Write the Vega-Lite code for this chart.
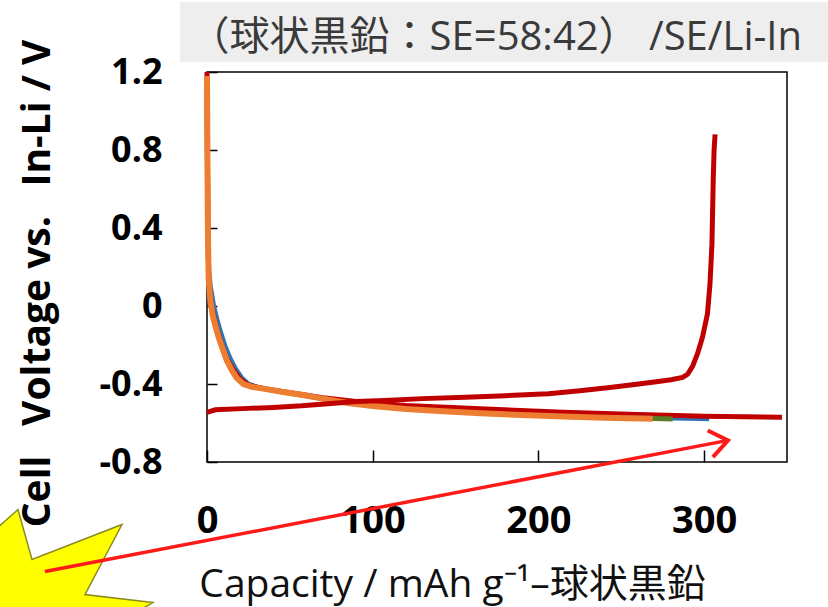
{
  "$schema": "https://vega.github.io/schema/vega-lite/v6.json",
  "autosize": "none",
  "width": 580,
  "height": 390,
  "padding": {"left": 207, "top": 72, "right": 41, "bottom": 145},
  "background": "white",
  "config": {
    "view": {"stroke": "#000", "strokeWidth": 1.5},
    "axis": {"grid": false, "domain": false}
  },
  "datasets": {
    "curves": [
      {"s": "blue", "cap": 0, "v": 1.1}, {"s": "blue", "cap": 0.5, "v": 0.4}, {"s": "blue", "cap": 1, "v": 0.18}, {"s": "blue", "cap": 2, "v": 0.1}, {"s": "blue", "cap": 4, "v": 0.0}, {"s": "blue", "cap": 6, "v": -0.07}, {"s": "blue", "cap": 8, "v": -0.13}, {"s": "blue", "cap": 11, "v": -0.21}, {"s": "blue", "cap": 14, "v": -0.27}, {"s": "blue", "cap": 17, "v": -0.32}, {"s": "blue", "cap": 21, "v": -0.37}, {"s": "blue", "cap": 25, "v": -0.4}, {"s": "blue", "cap": 30, "v": -0.416}, {"s": "blue", "cap": 45, "v": -0.44}, {"s": "blue", "cap": 60, "v": -0.46}, {"s": "blue", "cap": 80, "v": -0.49}, {"s": "blue", "cap": 100, "v": -0.508}, {"s": "blue", "cap": 130, "v": -0.528}, {"s": "blue", "cap": 165, "v": -0.545}, {"s": "blue", "cap": 200, "v": -0.556}, {"s": "blue", "cap": 240, "v": -0.567}, {"s": "blue", "cap": 270, "v": -0.573}, {"s": "blue", "cap": 290, "v": -0.576}, {"s": "blue", "cap": 303, "v": -0.578},
      {"s": "red1", "cap": 0, "v": 1.2}, {"s": "red1", "cap": 0.3, "v": 0.75}, {"s": "red1", "cap": 0.6, "v": 0.4}, {"s": "red1", "cap": 1, "v": 0.16}, {"s": "red1", "cap": 2, "v": 0.04}, {"s": "red1", "cap": 4, "v": -0.05}, {"s": "red1", "cap": 6, "v": -0.12}, {"s": "red1", "cap": 9, "v": -0.2}, {"s": "red1", "cap": 12, "v": -0.27}, {"s": "red1", "cap": 16, "v": -0.33}, {"s": "red1", "cap": 20, "v": -0.375}, {"s": "red1", "cap": 25, "v": -0.405}, {"s": "red1", "cap": 35, "v": -0.425}, {"s": "red1", "cap": 50, "v": -0.445}, {"s": "red1", "cap": 70, "v": -0.47}, {"s": "red1", "cap": 90, "v": -0.49}, {"s": "red1", "cap": 120, "v": -0.51}, {"s": "red1", "cap": 165, "v": -0.527}, {"s": "red1", "cap": 215, "v": -0.545}, {"s": "red1", "cap": 260, "v": -0.556}, {"s": "red1", "cap": 300, "v": -0.565}, {"s": "red1", "cap": 347, "v": -0.57},
      {"s": "green", "cap": 255, "v": -0.574}, {"s": "green", "cap": 269, "v": -0.577}, {"s": "green", "cap": 281, "v": -0.579},
      {"s": "orange", "cap": 0, "v": 1.18}, {"s": "orange", "cap": 0.3, "v": 0.7}, {"s": "orange", "cap": 0.6, "v": 0.35}, {"s": "orange", "cap": 1, "v": 0.14}, {"s": "orange", "cap": 2, "v": 0.03}, {"s": "orange", "cap": 3.5, "v": -0.05}, {"s": "orange", "cap": 5, "v": -0.1}, {"s": "orange", "cap": 7, "v": -0.16}, {"s": "orange", "cap": 9.5, "v": -0.22}, {"s": "orange", "cap": 12, "v": -0.28}, {"s": "orange", "cap": 15, "v": -0.33}, {"s": "orange", "cap": 18, "v": -0.37}, {"s": "orange", "cap": 22, "v": -0.4}, {"s": "orange", "cap": 27, "v": -0.415}, {"s": "orange", "cap": 35, "v": -0.425}, {"s": "orange", "cap": 45, "v": -0.44}, {"s": "orange", "cap": 57, "v": -0.455}, {"s": "orange", "cap": 70, "v": -0.475}, {"s": "orange", "cap": 85, "v": -0.497}, {"s": "orange", "cap": 100, "v": -0.513}, {"s": "orange", "cap": 120, "v": -0.528}, {"s": "orange", "cap": 140, "v": -0.538}, {"s": "orange", "cap": 165, "v": -0.55}, {"s": "orange", "cap": 190, "v": -0.559}, {"s": "orange", "cap": 215, "v": -0.567}, {"s": "orange", "cap": 240, "v": -0.573}, {"s": "orange", "cap": 269, "v": -0.578},
      {"s": "red2", "cap": 0, "v": -0.545}, {"s": "red2", "cap": 5, "v": -0.532}, {"s": "red2", "cap": 25, "v": -0.525}, {"s": "red2", "cap": 40, "v": -0.52}, {"s": "red2", "cap": 57, "v": -0.512}, {"s": "red2", "cap": 75, "v": -0.5}, {"s": "red2", "cap": 90, "v": -0.49}, {"s": "red2", "cap": 107, "v": -0.485}, {"s": "red2", "cap": 130, "v": -0.475}, {"s": "red2", "cap": 156, "v": -0.468}, {"s": "red2", "cap": 180, "v": -0.46}, {"s": "red2", "cap": 206, "v": -0.45}, {"s": "red2", "cap": 225, "v": -0.435}, {"s": "red2", "cap": 243, "v": -0.418}, {"s": "red2", "cap": 258, "v": -0.403}, {"s": "red2", "cap": 270, "v": -0.39}, {"s": "red2", "cap": 280, "v": -0.378}, {"s": "red2", "cap": 287, "v": -0.366}, {"s": "red2", "cap": 290, "v": -0.35}, {"s": "red2", "cap": 293, "v": -0.31}, {"s": "red2", "cap": 296, "v": -0.245}, {"s": "red2", "cap": 299, "v": -0.16}, {"s": "red2", "cap": 302, "v": -0.04}, {"s": "red2", "cap": 303.5, "v": 0.11}, {"s": "red2", "cap": 304.7, "v": 0.316}, {"s": "red2", "cap": 305.5, "v": 0.65}, {"s": "red2", "cap": 306, "v": 0.8}, {"s": "red2", "cap": 306.6, "v": 0.88}
    ],
    "band": [{"x1": -16.3, "x2": 374.8, "y1": 1.25, "y2": 1.56, "tx": -10.5, "ty": 1.315, "label": "（球状黒鉛：SE=58:42） /SE/Li-In"}],
    "arrow": [{"x1": -97.8, "y1": -1.362, "x2": 314.4, "y2": -0.689}],
    "star": [{"x": -137, "y": -1.454}]
  },
  "layer": [
    {
      "data": {"name": "band"},
      "mark": {"type": "rect", "color": "#eeeeee", "clip": false},
      "encoding": {
        "x": {"field": "x1", "type": "quantitative", "scale": {"domain": [0, 350]}},
        "x2": {"field": "x2"},
        "y": {"field": "y1", "type": "quantitative", "scale": {"domain": [-0.8, 1.2]}},
        "y2": {"field": "y2"}
      }
    },
    {
      "data": {"name": "band"},
      "mark": {"type": "text", "align": "left", "baseline": "alphabetic", "font": "Open Sans, Noto Sans CJK JP", "fontSize": 40, "color": "#3a3a3a", "clip": false},
      "encoding": {
        "x": {"field": "tx", "type": "quantitative"},
        "y": {"field": "ty", "type": "quantitative"},
        "text": {"field": "label"}
      }
    },
    {
      "data": {"name": "curves"},
      "transform": [{"filter": "datum.s === 'blue'"}],
      "mark": {"type": "line", "color": "#2e75b6", "strokeWidth": 5},
      "encoding": {
        "x": {"field": "cap", "type": "quantitative", "scale": {"domain": [0, 350], "nice": false},
          "axis": {"values": [0, 100, 200, 300], "tickSize": -12, "tickColor": "#000", "tickWidth": 1.5, "labelPadding": 52, "labelFont": "Open Sans", "labelFontWeight": "bold", "labelFontSize": 38, "labelColor": "#000", "labelFlush": false,
            "title": "Capacity / mAh g⁻¹–球状黒鉛", "titleFont": "Open Sans, Noto Sans CJK JP", "titleFontWeight": "normal", "titleFontSize": 39, "titleColor": "#111", "titleX": 245, "titleY": 134, "titleAlign": "center", "titleBaseline": "alphabetic"}},
        "y": {"field": "v", "type": "quantitative", "scale": {"domain": [-0.8, 1.2], "nice": false},
          "axis": {"values": [-0.8, -0.4, 0, 0.4, 0.8, 1.2], "tickSize": -10, "tickColor": "#000", "tickWidth": 1.5, "labelPadding": 55, "labelFont": "Open Sans", "labelFontWeight": "bold", "labelFontSize": 36, "labelColor": "#000", "labelFlush": false,
            "labelExpr": "replace(format(datum.value, '~g'), '−', '-')",
            "title": "Cell\u2002\u00a0Voltage vs.\u2002\u00a0In-Li / V", "titleFont": "Open Sans", "titleFontWeight": "bold", "titleFontSize": 39, "titleColor": "#000", "titleX": -170, "titleY": 211, "titleAngle": -90, "titleAlign": "center", "titleBaseline": "middle"}}
      }
    },
    {
      "data": {"name": "curves"},
      "transform": [{"filter": "datum.s === 'red1'"}],
      "mark": {"type": "line", "color": "#c00000", "strokeWidth": 5},
      "encoding": {"x": {"field": "cap", "type": "quantitative"}, "y": {"field": "v", "type": "quantitative"}}
    },
    {
      "data": {"name": "curves"},
      "transform": [{"filter": "datum.s === 'green'"}],
      "mark": {"type": "line", "color": "#5a7d2a", "strokeWidth": 5},
      "encoding": {"x": {"field": "cap", "type": "quantitative"}, "y": {"field": "v", "type": "quantitative"}}
    },
    {
      "data": {"name": "curves"},
      "transform": [{"filter": "datum.s === 'orange'"}],
      "mark": {"type": "line", "color": "#ed7d31", "strokeWidth": 6},
      "encoding": {"x": {"field": "cap", "type": "quantitative"}, "y": {"field": "v", "type": "quantitative"}}
    },
    {
      "data": {"name": "curves"},
      "transform": [{"filter": "datum.s === 'red2'"}],
      "mark": {"type": "line", "color": "#c00000", "strokeWidth": 5},
      "encoding": {"x": {"field": "cap", "type": "quantitative"}, "y": {"field": "v", "type": "quantitative"}}
    },
    {
      "data": {"name": "star"},
      "mark": {"type": "point", "filled": true, "fill": "#ffff00", "stroke": "#8a8a20", "strokeWidth": 1.5, "opacity": 1, "fillOpacity": 1, "clip": false,
        "shape": "M-0.4,-0.45L0.05,-0.275L0.19,-0.4L0.26,-0.15L0.71,-0.325L0.525,0.025L0.865,0.065L0.55,0.25L0.4,0.55L-0.1,0.35L-0.65,0.3L-0.3,0Z",
        "size": 160000},
      "encoding": {"x": {"field": "x", "type": "quantitative"}, "y": {"field": "y", "type": "quantitative"}}
    },
    {
      "data": {"name": "arrow"},
      "mark": {"type": "rule", "color": "#ff1a1a", "strokeWidth": 3.5, "clip": false},
      "encoding": {
        "x": {"field": "x1", "type": "quantitative"}, "y": {"field": "y1", "type": "quantitative"},
        "x2": {"field": "x2"}, "y2": {"field": "y2"}
      }
    },
    {
      "data": {"name": "arrow"},
      "mark": {"type": "point", "filled": false, "stroke": "#ff1a1a", "strokeWidth": 4, "opacity": 1, "clip": false,
        "shape": "M-1,-0.75L0,0L-1,0.75", "angle": -11, "size": 1300},
      "encoding": {"x": {"field": "x2", "type": "quantitative"}, "y": {"field": "y2", "type": "quantitative"}}
    }
  ]
}
